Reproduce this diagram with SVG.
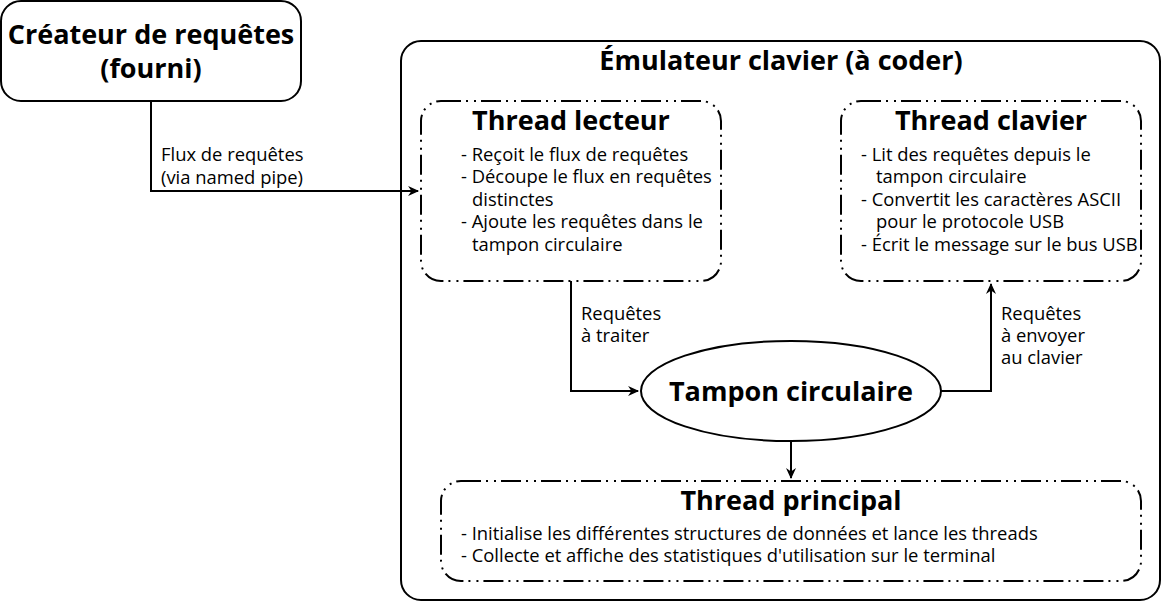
<svg xmlns="http://www.w3.org/2000/svg" width="1162" height="602" viewBox="0 0 1162 602">
<defs>
<marker id="arr" viewBox="0 0 10 10" refX="9" refY="5" markerWidth="11" markerHeight="10" markerUnits="userSpaceOnUse" orient="auto" overflow="visible" preserveAspectRatio="none">
<path d="M0,0 L10,5 L0,10 L3,5 Z" fill="#000"/>
</marker>
<style>
.box{fill:#fff;stroke:#000;stroke-width:2}
.dd{fill:#fff;stroke:#000;stroke-width:2;stroke-dasharray:20 5 2 6 2 5}
.t{font-family:"Open Sans","Noto Sans",sans-serif;font-weight:bold;font-size:27px;text-anchor:middle;fill:#000}
.b{font-family:"Open Sans","Noto Sans",sans-serif;font-size:18.4px;fill:#000}
.c{fill:none;stroke:#000;stroke-width:2}
</style>
</defs>
<rect width="1162" height="602" fill="#fff"/>
<g id="createur">
<rect class="box" x="1" y="1" width="300" height="100" rx="20"/>
<text class="t" x="151" y="44">Créateur de requêtes</text>
<text class="t" x="151" y="78">(fourni)</text>
</g>
<g id="emulateur">
<rect class="box" x="401" y="41" width="759" height="559" rx="20"/>
<text class="t" x="781" y="70">Émulateur clavier (à coder)</text>
</g>
<g id="lecteur">
<rect class="dd" x="421" y="101" width="300" height="180" rx="20"/>
<text class="t" x="571" y="130">Thread lecteur</text>
<text class="b" x="461" y="161">- Reçoit le flux de requêtes</text>
<text class="b" x="461" y="183">- Découpe le flux en requêtes</text>
<text class="b" x="472" y="206">distinctes</text>
<text class="b" x="461" y="228">- Ajoute les requêtes dans le</text>
<text class="b" x="472" y="251">tampon circulaire</text>
</g>
<g id="clavier">
<rect class="dd" x="841" y="101" width="300" height="180" rx="20"/>
<text class="t" x="991" y="130">Thread clavier</text>
<text class="b" x="861" y="161">- Lit des requêtes depuis le</text>
<text class="b" x="876" y="183">tampon circulaire</text>
<text class="b" x="861" y="206">- Convertit les caractères ASCII</text>
<text class="b" x="876" y="228">pour le protocole USB</text>
<text class="b" x="861" y="251">- Écrit le message sur le bus USB</text>
</g>
<g id="tampon">
<ellipse class="box" cx="791" cy="391" rx="150" ry="50"/>
<text class="t" x="791" y="401">Tampon circulaire</text>
</g>
<g id="principal">
<rect class="dd" x="441" y="481" width="700" height="100" rx="20"/>
<text class="t" x="791" y="510">Thread principal</text>
<text class="b" x="461" y="540">- Initialise les différentes structures de données et lance les threads</text>
<text class="b" x="461" y="562">- Collecte et affiche des statistiques d'utilisation sur le terminal</text>
</g>
<g id="connectors">
<path class="c" d="M151,101 V191 H418" marker-end="url(#arr)"/>
<path class="c" d="M571,281 V391 H638" marker-end="url(#arr)"/>
<path class="c" d="M941,391 H991 V284" marker-end="url(#arr)"/>
<path class="c" d="M791,441 V478" marker-end="url(#arr)"/>
<text class="b" x="161" y="161">Flux de requêtes</text>
<text class="b" x="161" y="184">(via named pipe)</text>
<text class="b" x="581" y="320">Requêtes</text>
<text class="b" x="581" y="342">à traiter</text>
<text class="b" x="1001" y="320">Requêtes</text>
<text class="b" x="1001" y="342">à envoyer</text>
<text class="b" x="1001" y="364">au clavier</text>
</g>
</svg>
